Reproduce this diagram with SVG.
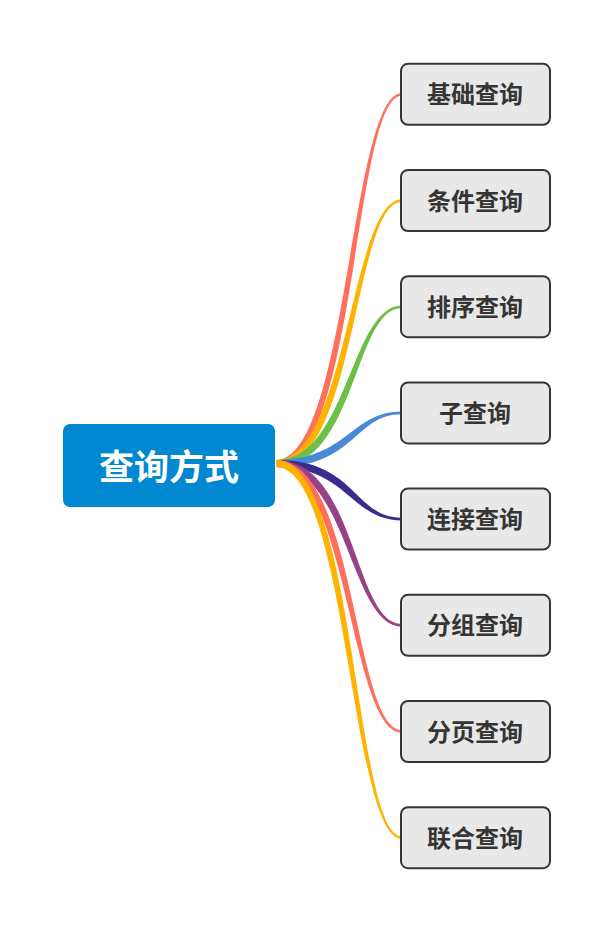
<svg xmlns="http://www.w3.org/2000/svg" width="613" height="931" viewBox="0 0 613 931">
<style>
.bg{fill:#ffffff}
.root-box{fill:#0288D1}
.root-text{fill:#ffffff;font-family:"Noto Sans CJK SC","Noto Sans",sans-serif;font-weight:bold;font-size:35px}
.child-box{fill:#e8e8e8;stroke:#363636;stroke-width:2}
.child-text{fill:#353535;font-family:"Noto Sans CJK SC","Noto Sans",sans-serif;font-weight:bold;font-size:24px}
.c-red{fill:#FF6F5B}
.c-orange{fill:#FFB300}
.c-green{fill:#6CC04A}
.c-blue{fill:#4A88D8}
.c-navy{fill:#3A2C8C}
.c-purple{fill:#974286}
</style>
<rect class="bg" x="0" y="0" width="613" height="931"/>
<g id="connectors">
<path class="c-red" d="M276,460 C347.5,460 350.5,93 402,93 L402,95.6 C353.5,95.6 356.5,467 276,467 Z"/>
<path class="c-orange" d="M276,460 C347.5,460 350.5,199.2 402,199.2 L402,201.8 C353.5,201.8 356.5,467 276,467 Z"/>
<path class="c-green" d="M276,460 C347.5,460 350.5,305.4 402,305.4 L402,308 C353.5,308 356.5,467 276,467 Z"/>
<path class="c-blue" d="M276,460 C347.5,460 350.5,411.6 402,411.6 L402,414.2 C353.5,414.2 356.5,467 276,467 Z"/>
<path class="c-navy" d="M276,460 C356.5,460 353.5,517.8 402,517.8 L402,520.4 C350.5,520.4 347.5,467 276,467 Z"/>
<path class="c-purple" d="M276,460 C356.5,460 353.5,624 402,624 L402,626.6 C350.5,626.6 347.5,467 276,467 Z"/>
<path class="c-red" d="M276,460 C356.5,460 353.5,730.2 402,730.2 L402,732.8 C350.5,732.8 347.5,467 276,467 Z"/>
<path class="c-orange" d="M276,460 C356.5,460 353.5,836.4 402,836.4 L402,839 C350.5,839 347.5,467 276,467 Z"/>
</g>
<g id="root">
<rect class="root-box" x="63" y="424" width="212" height="83" rx="7"/>
<text class="root-text" x="169" y="464" text-anchor="middle" dominant-baseline="central">查询方式</text>
</g>
<g id="n1"><rect class="child-box" x="401" y="63.8" width="149" height="61" rx="7"/><text class="child-text" x="475" y="92.8" text-anchor="middle" dominant-baseline="central">基础查询</text></g>
<g id="n2"><rect class="child-box" x="401" y="170" width="149" height="61" rx="7"/><text class="child-text" x="475" y="199" text-anchor="middle" dominant-baseline="central">条件查询</text></g>
<g id="n3"><rect class="child-box" x="401" y="276.2" width="149" height="61" rx="7"/><text class="child-text" x="475" y="305.2" text-anchor="middle" dominant-baseline="central">排序查询</text></g>
<g id="n4"><rect class="child-box" x="401" y="382.4" width="149" height="61" rx="7"/><text class="child-text" x="475" y="411.4" text-anchor="middle" dominant-baseline="central">子查询</text></g>
<g id="n5"><rect class="child-box" x="401" y="488.6" width="149" height="61" rx="7"/><text class="child-text" x="475" y="517.6" text-anchor="middle" dominant-baseline="central">连接查询</text></g>
<g id="n6"><rect class="child-box" x="401" y="594.8" width="149" height="61" rx="7"/><text class="child-text" x="475" y="623.8" text-anchor="middle" dominant-baseline="central">分组查询</text></g>
<g id="n7"><rect class="child-box" x="401" y="701" width="149" height="61" rx="7"/><text class="child-text" x="475" y="730" text-anchor="middle" dominant-baseline="central">分页查询</text></g>
<g id="n8"><rect class="child-box" x="401" y="807.2" width="149" height="61" rx="7"/><text class="child-text" x="475" y="836.2" text-anchor="middle" dominant-baseline="central">联合查询</text></g>
</svg>
